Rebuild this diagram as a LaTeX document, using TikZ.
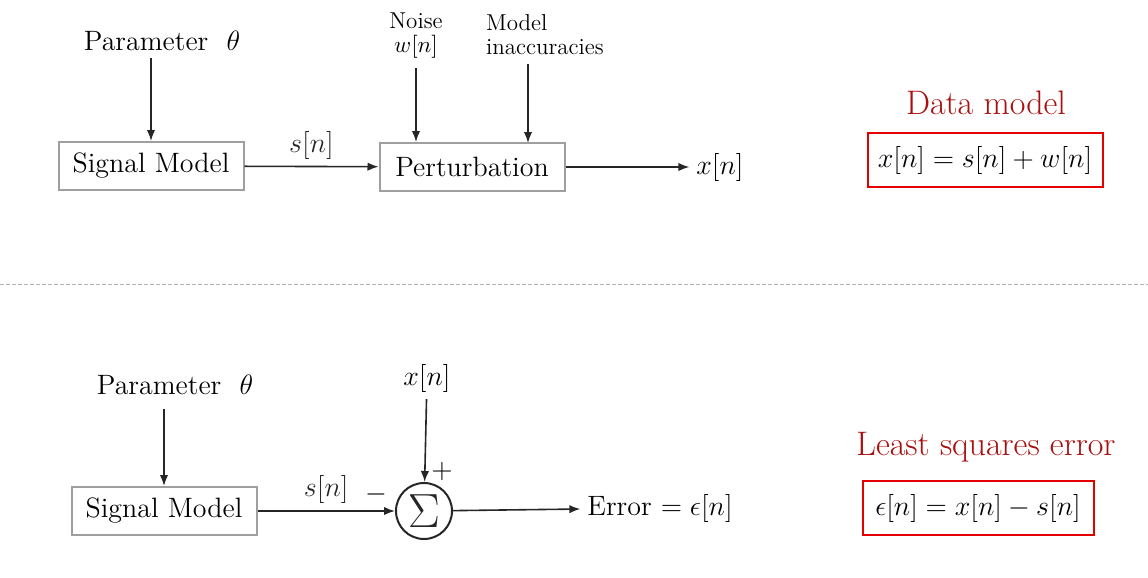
\RequirePackage{fix-cm}
\documentclass[tikz,border=0pt]{standalone}
\usepackage{fontspec}
\usepackage{amsmath}
\usepackage{xcolor}
\usetikzlibrary{arrows.meta, positioning}
\definecolor{titlered}{RGB}{170,14,14}
\definecolor{boxred}{RGB}{228,0,0}
\begin{document}
\begin{tikzpicture}[x = 0.5pt, y = -0.5pt,
  blk/.style = {draw = gray!75, line width = 1pt, minimum width = 92.5pt, minimum height = 24pt, font = \fontsize{14}{17}\selectfont},
  lbl/.style = {font = \fontsize{14}{17}\selectfont},
  small/.style = {font = \fontsize{11.5}{12}\selectfont, inner sep = 1pt},
  sig/.style = {line width = 0.8pt, black!85, -{Latex[length = 5.5pt, width = 4.2pt]}},
  title/.style = {text = titlered, font = \fontsize{17}{20}\selectfont},
  eqbox/.style = {draw = boxred, line width = 1pt, minimum height = 27pt, font = \fontsize{14}{17}\selectfont}]
\useasboundingbox (0,0) rectangle (1148,578);
% data model
\node[lbl] (param1) at (162,41) {Parameter \ $\theta$};
\node[blk] (model1) at (151,166) {Signal Model};
\node[blk] (pert) at (472,167) {Perturbation};
\node[small, align = center] (noise) at (416,36) {Noise\\$w[n]$};
\node[small, align = left] (inacc) at (545,35) {Model\\inaccuracies};
\coordinate (inaccin) at (528,143);
\node[lbl] (x1) at (720,167) {$x[n]$};
\draw[sig] (model1.north |- param1.south) -- (model1.north);
\draw[sig] (model1) -- node[lbl, above] (s1) {$s[n]$} (pert);
\draw[sig] (noise.south) ++(0,7) -- (noise.south |- pert.north);
\draw[sig] (inacc.south -| inaccin) ++(0,7) -- (inaccin);
\draw[sig] (pert) -- (x1);
\node[title] (title1) at (986,103) {Data model};
\node[eqbox, minimum width = 117.5pt] (eq1) at (985,160) {$x[n] = s[n] + w[n]$};
% separator
\draw[gray!60, dashed, dash pattern = on 2pt off 1pt, line width = 0.4pt] (0,284) -- (1148,284);
% least squares
\node[lbl] (param2) at (175,385) {Parameter \ $\theta$};
\node[blk] (model2) at (164,511) {Signal Model};
\node[circle, draw, line width = 1pt, minimum size = 28pt, inner sep = 0pt, black!85] (sum) at (424,511) {\fontsize{24}{24}\selectfont$\Sigma$};
\node[lbl] (x2) at (427,378) {$x[n]$};
\node[lbl] (plus) at (442,471) {$+$};
\node[lbl] (minus) at (376,494) {$-$};
\node[lbl] (err) at (660,508) {Error $= \epsilon[n]$};
\draw[sig] (model2.north |- param2.south) ++(0,7) -- (model2.north);
\draw[sig] (model2) -- node[lbl, above] (s2) {$s[n]$} (sum);
\draw[sig] (x2) -- (sum);
\draw[sig] (sum) -- (err);
\node[title] (title2) at (986,447) {Least squares error};
\node[eqbox, minimum width = 115.5pt] (eq2) at (978,508) {$\epsilon[n] = x[n] - s[n]$};
\end{tikzpicture}
\end{document}
